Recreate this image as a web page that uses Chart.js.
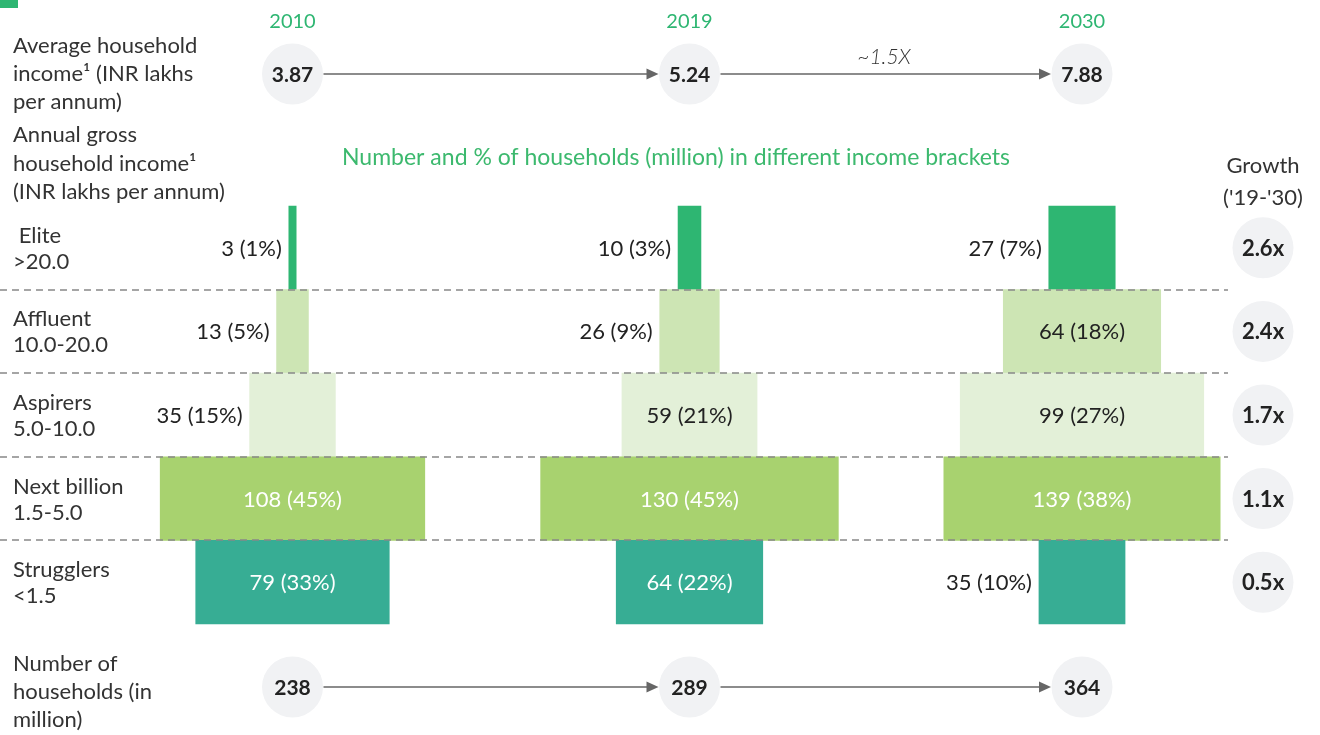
<!DOCTYPE html>
<html>
<head>
<meta charset="utf-8">
<script src="https://cdn.jsdelivr.net/npm/chart.js@4.4.0/dist/chart.umd.min.js"></script>
<style>
  html, body { margin: 0; padding: 0; background: #fff; }
  #wrap { width: 1320px; height: 735px; }
</style>
</head>
<body>
<div id="wrap"><canvas id="myChart" width="1320" height="735"></canvas></div>
<script>
// data
var years = ['2010', '2019', '2030'];
var brackets = [' Elite', 'Affluent', 'Aspirers', 'Next billion', 'Strugglers'];
var incomeRanges = ['>20.0', '10.0-20.0', '5.0-10.0', '1.5-5.0', '<1.5'];
var households2010 = [3, 13, 35, 108, 79];
var households2019 = [10, 26, 59, 130, 64];
var households2030 = [27, 64, 99, 139, 35];
var share2010 = [1, 5, 15, 45, 33];
var share2019 = [3, 9, 21, 45, 22];
var share2030 = [7, 18, 27, 38, 10];
var growth = [2.6, 2.4, 1.7, 1.1, 0.5];
var avgIncome = [3.87, 5.24, 7.88];
var totalHouseholds = [238, 289, 364];
var rowColors = ['#2eb672', '#cde5b4', '#e3f0d8', '#a8d26f', '#37ad94'];

var W = 1320;
var GREEN = '#2eb672';
var DARK = '#222222';
var TEXT = '#333333';
var FONT = 'Lato, "Open Sans", sans-serif';

// column layout: centre, pixels per million, visible half width
var cols = [
  { center: 292.5, pxPerUnit: 2.45, half: 200 },
  { center: 689.5, pxPerUnit: 2.29, half: 200 },
  { center: 1082, pxPerUnit: 2.46, half: 138.5 }
];
var series = [households2010, households2019, households2030];
var shares = [share2010, share2019, share2030];

var scales = {
  y: { type: 'category', display: false },
  x: { type: 'linear', display: false }
};
var datasets = [];
cols.forEach(function (c, i) {
  scales['x' + i] = {
    type: 'linear', axis: 'x', display: false,
    min: -c.center / c.pxPerUnit,
    max: (W - c.center) / c.pxPerUnit
  };
  datasets.push({
    label: years[i],
    data: series[i].map(function (v) { return [-v / 2, v / 2]; }),
    xAxisID: 'x' + i,
    backgroundColor: rowColors,
    borderWidth: 0,
    barPercentage: 1,
    categoryPercentage: 1,
    grouped: false,
    clip: { left: c.half - c.center, right: c.center + c.half - W, top: false, bottom: false }
  });
});

function txt(ctx, s, x, y, font, color, align) {
  ctx.font = font;
  ctx.fillStyle = color;
  ctx.textAlign = align || 'left';
  ctx.textBaseline = 'middle';
  ctx.fillText(s, x, y);
}

function circle(ctx, x, y, label, size) {
  ctx.fillStyle = '#f1f2f4';
  ctx.beginPath();
  ctx.arc(x, y, 30.5, 0, Math.PI * 2);
  ctx.fill();
  txt(ctx, label, x, y + 1, 'bold ' + size + 'px ' + FONT, DARK, 'center');
}

function arrow(ctx, x1, x2, y) {
  ctx.strokeStyle = '#666';
  ctx.fillStyle = '#666';
  ctx.lineWidth = 1.5;
  ctx.beginPath();
  ctx.moveTo(x1, y);
  ctx.lineTo(x2 - 10, y);
  ctx.stroke();
  ctx.beginPath();
  ctx.moveTo(x2, y);
  ctx.lineTo(x2 - 12, y - 5.5);
  ctx.lineTo(x2 - 12, y + 5.5);
  ctx.closePath();
  ctx.fill();
}

var decor = {
  id: 'decor',
  afterDatasetsDraw: function (chart) {
    var ctx = chart.ctx;
    var yScale = chart.scales.y;
    ctx.save();

    // dashed row separators
    ctx.strokeStyle = '#888';
    ctx.lineWidth = 1.5;
    ctx.setLineDash([7, 5]);
    for (var r = 0; r < brackets.length - 1; r++) {
      var yy = Math.round((yScale.getPixelForValue(r) + yScale.getPixelForValue(r + 1)) / 2);
      ctx.beginPath();
      ctx.moveTo(0, yy);
      ctx.lineTo(1228, yy);
      ctx.stroke();
    }
    ctx.setLineDash([]);

    // bar labels
    var labelFont = '22px ' + FONT;
    cols.forEach(function (c, i) {
      var meta = chart.getDatasetMeta(i);
      meta.data.forEach(function (bar, j) {
        var p = bar.getProps(['x', 'base', 'y'], true);
        var left = Math.max(Math.min(p.x, p.base), c.center - c.half);
        var right = Math.min(Math.max(p.x, p.base), c.center + c.half);
        var s = series[i][j] + ' (' + shares[i][j] + '%)';
        ctx.font = labelFont;
        var w = ctx.measureText(s).width;
        if (w + 16 <= right - left) {
          txt(ctx, s, (left + right) / 2, p.y + 1, labelFont, j >= 3 ? '#ffffff' : DARK, 'center');
        } else {
          txt(ctx, s, left - 7, p.y + 1, labelFont, DARK, 'right');
        }
      });
    });

    // left row labels
    var leftFont = '22px ' + FONT;
    brackets.forEach(function (b, j) {
      var cy = yScale.getPixelForValue(j) + 1;
      txt(ctx, b, 13, cy - 13, leftFont, TEXT);
      txt(ctx, incomeRanges[j], 13, cy + 13, leftFont, TEXT);
    });

    // growth column
    txt(ctx, 'Growth', 1263, 166, leftFont, TEXT, 'center');
    txt(ctx, "('19-'30)", 1263, 198, leftFont, TEXT, 'center');
    growth.forEach(function (g, j) {
      circle(ctx, 1263, yScale.getPixelForValue(j), g.toFixed(1) + 'x', 22);
    });

    // header block
    ctx.fillStyle = GREEN;
    ctx.fillRect(0, 0, 18, 8);
    ['Average household', 'income\u00b9 (INR lakhs', 'per annum)'].forEach(function (l, k) {
      txt(ctx, l, 13, 46 + k * 28, leftFont, TEXT);
    });
    ['Annual gross', 'household income\u00b9', '(INR lakhs per annum)'].forEach(function (l, k) {
      txt(ctx, l, 13, 135 + k * 28.5, leftFont, TEXT);
    });
    ['Number of', 'households (in', 'million)'].forEach(function (l, k) {
      txt(ctx, l, 13, 664 + k * 28, leftFont, TEXT);
    });
    txt(ctx, 'Number and % of households (million) in different income brackets', 676, 158, '23px ' + FONT, '#3cb96e', 'center');

    cols.forEach(function (c, i) {
      txt(ctx, years[i], c.center, 22, '20px ' + FONT, GREEN, 'center');
      if (i < cols.length - 1) {
        arrow(ctx, c.center + 31, cols[i + 1].center - 31, 74);
        arrow(ctx, c.center + 31, cols[i + 1].center - 31, 687);
      }
      circle(ctx, c.center, 74, avgIncome[i].toFixed(2), 21);
      circle(ctx, c.center, 687, String(totalHouseholds[i]), 21);
    });
    txt(ctx, '~1.5X', 884, 57, 'italic 300 21px ' + FONT, TEXT, 'center');

    ctx.restore();
  }
};

var ctx = document.getElementById('myChart').getContext('2d');
var chart = new Chart(ctx, {
  type: 'bar',
  data: { labels: brackets, datasets: datasets },
  options: {
    indexAxis: 'y',
    responsive: false,
    animation: false,
    layout: { padding: { top: 206, bottom: 111, left: 0, right: 0 } },
    scales: scales,
    plugins: { legend: { display: false }, tooltip: { enabled: false } }
  },
  plugins: [decor]
});
</script>
</body>
</html>
